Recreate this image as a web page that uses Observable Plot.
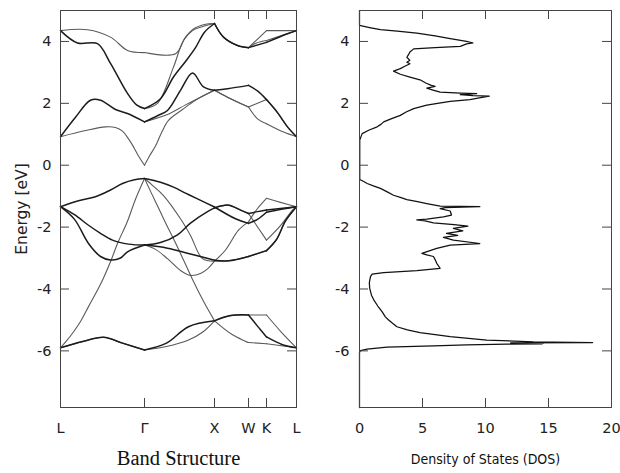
<!DOCTYPE html>
<html>
<head>
<meta charset="utf-8">
<script src="https://cdn.jsdelivr.net/npm/d3@7"></script>
<script src="https://cdn.jsdelivr.net/npm/@observablehq/plot@0.6"></script>
<style>
  html, body { margin: 0; padding: 0; background: #fff; }
  #wrap { display: flex; width: 620px; height: 473px; overflow: hidden; }
</style>
</head>
<body>
<div id="wrap"></div>
<script>
// ---------- high-symmetry path (k-path distance, arbitrary units) ----------
const kTicks = [0, 84, 154, 188, 206, 236];
const kLabels = ["L", "Γ", "X", "W", "K", "L"];
const energyTicks = [-6, -4, -2, 0, 2, 4];
const energyDomain = [-7.83, 5.0];
const dosTicks = [0, 5, 10, 15, 20];

// ---------- bands: [k, E(eV)] ----------
// conduction
const cbTop = [[0,4.35],[27,4.38],[50,4.14],[67,3.71],[84,3.64],[115,3.6],[125,4.14],[135,4.44],[148,4.57],[154,4.58],[163,4.14],[177,3.87],[188,3.8],[206,4.35],[236,4.35]];
const cbB = [[0,4.35],[17,3.95],[37,3.93],[50,3.29],[67,2.32],[76,1.95],[84,1.83],[100,2.15],[113,2.85],[125,3.35],[135,3.8],[144,4.3],[154,4.58],[163,4.14],[177,3.87],[188,3.8],[206,3.97],[227,4.25],[236,4.35]];
const cbE = [[84,1.83],[97,2.0],[113,3.17],[123,4.03],[132,4.35],[140,4.46],[154,4.58],[163,4.14],[177,3.87],[188,3.8],[196,3.95],[206,4.03],[236,4.35]];
const cbC = [[0,0.92],[15,1.55],[30,2.1],[40,2.1],[55,1.8],[67,1.67],[84,1.4],[97,1.6],[107,1.77],[120,2.42],[132,2.98],[143,2.53],[154,2.42],[167,2.47],[188,2.58],[197,2.4],[206,2.12],[217,1.7],[227,1.24],[236,0.92]];
const cbF = [[84,1.4],[107,1.64],[125,1.95],[140,2.2],[154,2.42],[167,2.2],[188,1.88],[197,2.0],[206,2.12],[217,1.7],[227,1.24],[236,0.92]];
const cbD = [[0,0.92],[25,1.12],[45,1.24],[55,1.22],[62,1.1],[68,0.85],[72,0.65],[78,0.3],[84,0],[89,0.3],[95,0.62],[101,1.05],[108,1.45],[122,1.8],[135,2.1],[154,2.42],[167,2.2],[188,1.88],[197,1.5],[206,1.34],[223,1.07],[236,0.92]];
// valence
const vb1 = [[0,-1.34],[18,-1.15],[35,-1.02],[50,-0.8],[62,-0.59],[74,-0.47],[84,-0.43],[100,-0.55],[113,-0.71],[125,-0.9],[137,-1.09],[154,-1.35],[175,-1.73],[188,-1.88],[197,-1.75],[206,-1.52],[221,-1.42],[236,-1.34]];
const vb2 = [[0,-1.34],[14,-1.6],[28,-1.94],[40,-2.2],[52,-2.42],[68,-2.55],[84,-2.58],[100,-2.5],[117,-2.25],[130,-1.87],[147,-1.5],[154,-1.38],[168,-1.29],[180,-1.45],[188,-1.56],[197,-1.5],[206,-1.45],[236,-1.34]];
const vb2b = [[154,-1.38],[168,-1.29],[180,-1.45],[188,-1.56],[206,-2.42],[220,-1.95],[232,-1.45],[236,-1.34]];
const vb3 = [[0,-1.34],[14,-1.75],[28,-2.53],[40,-2.95],[50,-3.06],[60,-3.0],[67,-2.8],[84,-2.58],[107,-2.68],[130,-2.87],[154,-3.07],[168,-3.09],[188,-2.95],[206,-2.76],[216,-2.4],[225,-1.8],[236,-1.34]];
const vbSteep = [[0,-5.9],[6,-5.68],[12,-5.43],[20,-5.05],[28,-4.57],[40,-3.85],[50,-3.12],[57,-2.53],[67,-1.81],[75,-1.1],[84,-0.43],[95,-1.18],[105,-1.86],[113,-2.38],[125,-3.2],[133,-3.76],[143,-4.4],[154,-5.03],[172,-5.48],[188,-5.73],[206,-5.77],[236,-5.9]];
const vbCurve = [[84,-0.43],[92,-0.65],[103,-0.98],[120,-1.73],[130,-2.27],[142,-3.02],[154,-3.1],[165,-2.74],[178,-2.1],[188,-1.83],[197,-1.4],[206,-1.07],[220,-1.2],[236,-1.34]];
const vbBowl = [[84,-2.58],[95,-2.72],[107,-3.02],[120,-3.4],[130,-3.56],[140,-3.5],[147,-3.35],[154,-3.1],[168,-3.09],[188,-2.95],[206,-2.76],[216,-2.4],[225,-1.8],[236,-1.34]];
// lowest bands
const bb1 = [[0,-5.9],[22,-5.7],[43,-5.56],[62,-5.75],[84,-5.97],[106,-5.75],[128,-5.22],[154,-5.03],[170,-4.86],[188,-4.84],[197,-5.2],[206,-5.55],[222,-5.8],[236,-5.9]];
const bb2 = [[0,-5.9],[22,-5.7],[43,-5.56],[62,-5.75],[84,-5.97],[106,-5.86],[128,-5.65],[142,-5.4],[154,-5.03],[170,-4.86],[188,-4.84],[206,-4.84],[221,-5.4],[236,-5.9]];

const darkBands = {cbB, cbC, vb1, vb2, vb3, bb1};
const lightBands = {cbTop, cbE, cbF, cbD, vb2b, vbSteep, vbCurve, vbBowl, bb2};

// ---------- density of states ----------
const dosEnergy = [5.0,4.52,4.45,4.38,4.33,4.27,4.18,4.09,4.0,3.95,3.92,3.84,3.8,3.76,3.66,3.58,3.49,3.39,3.33,3.28,3.2,3.12,3.04,2.94,2.85,2.76,2.65,2.58,2.55,2.49,2.42,2.36,2.33,2.31,2.28,2.25,2.23,2.17,2.12,2.06,2.0,1.94,1.83,1.72,1.61,1.5,1.4,1.32,1.24,1.13,1.02,0.81,-0.46,-0.52,-0.59,-0.67,-0.75,-0.86,-0.97,-1.05,-1.11,-1.18,-1.24,-1.32,-1.34,-1.37,-1.4,-1.48,-1.61,-1.67,-1.74,-1.77,-1.8,-1.86,-1.92,-1.97,-2.04,-2.12,-2.2,-2.27,-2.33,-2.42,-2.53,-2.58,-2.69,-2.85,-2.9,-2.95,-3.05,-3.17,-3.33,-3.41,-3.47,-3.52,-3.6,-3.8,-3.98,-4.2,-4.35,-4.55,-4.73,-4.9,-5.0,-5.1,-5.22,-5.32,-5.41,-5.54,-5.65,-5.71,-5.73,-5.745,-5.75,-5.76,-5.77,-5.78,-5.81,-5.84,-5.88,-5.94,-5.99,-6.05,-7.83];
const dosValue  = [0,0,0.8,1.66,3.0,4.55,6.0,7.2,8.5,9.0,8.5,8.0,6.0,4.3,4.0,3.9,3.76,4.0,3.76,4.0,3.6,3.24,2.7,3.24,4.0,4.8,5.3,5.7,6.0,5.34,5.9,6.4,8.0,9.3,8.0,9.0,10.3,9.4,8.76,7.2,6.2,5.34,4.3,3.7,3.24,2.5,1.92,1.7,1.4,0.73,0.21,0.02,0.02,0.3,0.61,1.1,1.66,2.2,2.7,3.3,3.76,4.6,5.34,6.4,9.55,6.8,6.4,7.2,7.3,6.66,5.34,4.55,5.2,5.87,7.5,8.6,7.45,8.2,6.9,7.8,6.66,7.45,9.55,7.2,6.13,4.95,5.34,5.87,6.0,6.13,6.4,4.55,1.92,1.0,0.87,0.78,0.81,0.95,1.13,1.45,1.79,2.05,2.31,2.6,2.97,3.8,4.8,7.2,10.1,13.8,18.5,12.0,14.6,12.2,14.5,11.7,8.5,5.87,2.18,0.6,0.08,0,0];

// ---------- helpers ----------
function toRows(bands, style) {
  const rows = [];
  for (const [name, pts] of Object.entries(bands)) {
    for (let s = 0; s < kTicks.length - 1; s++) {
      const a = kTicks[s], b = kTicks[s + 1];
      const p = pts.filter(([k]) => k >= a && k <= b);
      if (p.length >= 2) p.forEach(([k, E]) => rows.push({k, E, id: name + "-" + s, style}));
    }
  }
  return rows;
}
const darkRows = toRows(darkBands, "dark");
const lightRows = toRows(lightBands, "light");
const dosRows = dosEnergy.map((E, i) => ({E, D: dosValue[i]}));

const H = 473, MT = 10, MB = 66;
const frameH = H - MT - MB;
const tickLen = 9;
const axisColor = "#444";
const baseStyle = {fontFamily: "'DejaVu Sans', sans-serif", fontSize: "14.5px", color: "#222", background: "#fff", overflow: "visible"};

// ---------- left panel: band structure ----------
const wL = 310, mlL = 60, mrL = 14;
const frameWL = wL - mlL - mrL;
const left = Plot.plot({
  width: wL, height: H,
  marginLeft: mlL, marginRight: mrL, marginTop: MT, marginBottom: MB,
  style: baseStyle,
  x: {domain: [kTicks[0], kTicks[kTicks.length - 1]], axis: null},
  y: {domain: energyDomain, axis: null},
  marks: [
    Plot.line(lightRows, {x: "k", y: "E", z: "id", stroke: "#5a5a5a", strokeWidth: 1.1, curve: "catmull-rom"}),
    Plot.line(darkRows, {x: "k", y: "E", z: "id", stroke: "#1c1c1c", strokeWidth: 1.5, curve: "catmull-rom"}),
    Plot.ruleX(kTicks, {stroke: axisColor, insetTop: frameH - tickLen}),
    Plot.ruleX(kTicks, {stroke: axisColor, insetBottom: frameH - tickLen}),
    Plot.ruleY(energyTicks, {stroke: axisColor, insetRight: frameWL - tickLen}),
    Plot.ruleY(energyTicks, {stroke: axisColor, insetLeft: frameWL - tickLen}),
    Plot.frame({stroke: axisColor}),
    Plot.axisX({anchor: "bottom", ticks: kTicks, tickSize: 0, tickPadding: 15, tickFormat: (d, i) => kLabels[i], label: null}),
    Plot.axisY({anchor: "left", ticks: energyTicks, tickSize: 0, tickPadding: 9, tickFormat: d => String(d), label: null}),
    Plot.text(["Energy [eV]"], {frameAnchor: "left", textAnchor: "middle", dx: -38, rotate: -90, fontSize: 15.5, fill: "#222"}),
    Plot.text(["Band Structure"], {frameAnchor: "bottom", textAnchor: "middle", dy: 57, fontFamily: "'Liberation Serif', 'Times New Roman', serif", fontSize: 20.5, fill: "#111"})
  ]
});

// ---------- right panel: DOS ----------
const wR = 310, mlR = 49, mrR = 9;
const frameWR = wR - mlR - mrR;
const right = Plot.plot({
  width: wR, height: H,
  marginLeft: mlR, marginRight: mrR, marginTop: MT, marginBottom: MB,
  style: baseStyle,
  x: {domain: [dosTicks[0], dosTicks[dosTicks.length - 1]], axis: null},
  y: {domain: energyDomain, axis: null},
  marks: [
    Plot.line(dosRows, {x: "D", y: "E", stroke: "#111", strokeWidth: 1.25}),
    Plot.ruleX(dosTicks, {stroke: axisColor, insetTop: frameH - tickLen}),
    Plot.ruleX(dosTicks, {stroke: axisColor, insetBottom: frameH - tickLen}),
    Plot.ruleY(energyTicks, {stroke: axisColor, insetRight: frameWR - tickLen}),
    Plot.ruleY(energyTicks, {stroke: axisColor, insetLeft: frameWR - tickLen}),
    Plot.frame({stroke: axisColor}),
    Plot.axisX({anchor: "bottom", ticks: dosTicks, tickSize: 0, tickPadding: 15, tickFormat: d => String(d), label: null}),
    Plot.axisY({anchor: "left", ticks: energyTicks, tickSize: 0, tickPadding: 10, tickFormat: d => String(d), label: null}),
    Plot.text(["Density of States (DOS)"], {frameAnchor: "bottom", textAnchor: "middle", dy: 56, fontFamily: "'DejaVu Sans Condensed', 'DejaVu Sans', sans-serif", fontSize: 14, fontStretch: "condensed", fill: "#111"})
  ]
});

const wrap = document.getElementById("wrap");
wrap.appendChild(left);
wrap.appendChild(right);
</script>
</body>
</html>
